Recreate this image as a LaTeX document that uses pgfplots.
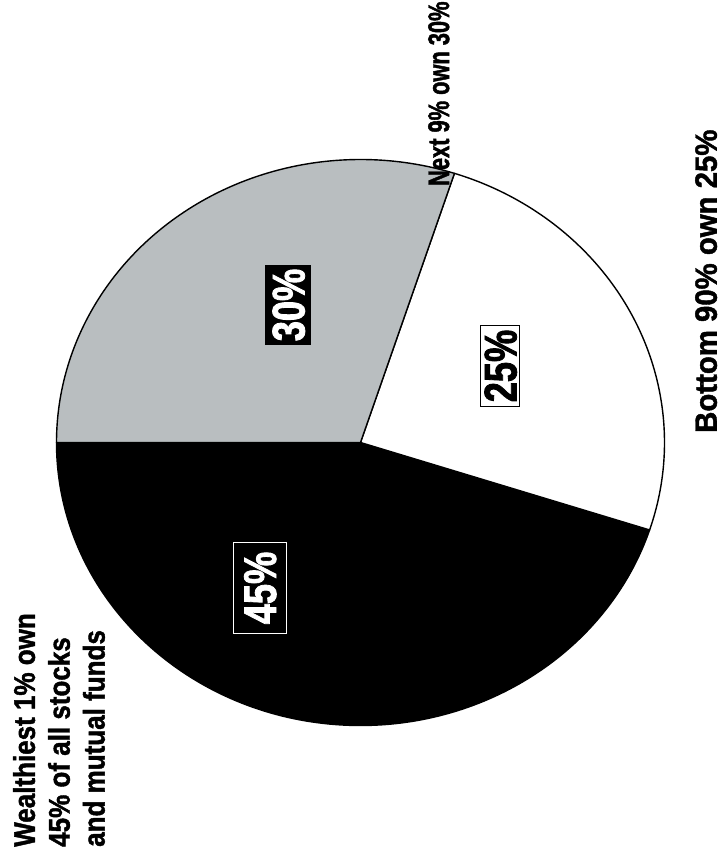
\documentclass[border=0pt]{standalone}
\usepackage{pgfplots}
\pgfplotsset{compat=1.18}
\usepackage{pgfplotstable}
\usepackage{fontspec}
\setmainfont{Liberation Sans}
\newfontfamily\condA{Liberation Sans Bold}[FakeStretch=0.87,FakeBold=1.4]
\newfontfamily\condB{Liberation Sans Bold}[FakeStretch=0.95,FakeBold=1.4]
\newfontfamily\condC{Liberation Sans Bold}[FakeStretch=0.73,FakeBold=1.4]
\newfontfamily\condx{Liberation Sans Bold}[FakeStretch=0.79,FakeBold=1.8]
\definecolor{piegrey}{RGB}{185,190,192}

% shares in percent, drawn counter-clockwise from 180 deg
\pgfplotstableread{
share col
45 black
25 white
30 piegrey
}\pietable

\begin{document}
\begin{tikzpicture}
\begin{axis}[x=1bp,y=1bp,xmin=0,xmax=723,ymin=0,ymax=858,hide axis,clip=false]
\pgfplotstablegetrowsof{\pietable}
\pgfmathtruncatemacro\nlast{\pgfplotsretval-1}
\def\angA{180}
\pgfplotsforeachungrouped \i in {0,...,\nlast}{%
  \pgfplotstablegetelem{\i}{share}\of\pietable \let\share\pgfplotsretval
  \pgfplotstablegetelem{\i}{col}\of\pietable \let\col\pgfplotsretval
  \pgfmathsetmacro\angB{\angA+3.6*\share}
  \edef\temp{\noexpand\filldraw[fill=\col,draw=black,line width=1.4bp,line join=round]
    (axis cs:360.5,415.5) -- ++(\angA:304bp and 283bp)
    arc[start angle=\angA,end angle=\angB,x radius=304bp,y radius=283bp] -- cycle;}
  \temp
  \global\let\angA\angB
}
% value boxes
\node[rotate=90,fill=black,text=white,font=\condx\fontsize{46}{46}\selectfont,
  inner xsep=4bp,inner ysep=6.5bp,text height=33bp,text depth=0pt] at (axis cs:288,553) {30\%};
\node[rotate=90,fill=black,draw=white,line width=1bp,text=white,font=\condx\fontsize{46}{46}\selectfont,
  inner xsep=9.5bp,inner ysep=10bp,text height=33bp,text depth=0pt] at (axis cs:259.5,270) {45\%};
\node[rotate=90,fill=white,draw=black,line width=1bp,text=black,font=\condx\fontsize{46}{46}\selectfont,
  inner xsep=4bp,inner ysep=3bp,text height=33bp,text depth=0pt] at (axis cs:500,492) {25\%};
% outer labels
\node[rotate=90,anchor=north west,inner sep=0,align=left,
  font=\condA\fontsize{30}{35}\selectfont] at (axis cs:13,11)
  {Wealthiest 1\% own\\45\% of all stocks\\and mutual funds};
\node[rotate=90,anchor=north west,inner sep=0,
  font=\condC\fontsize{30}{30}\selectfont] at (axis cs:428,672) {Next 9\% own 30\%};
\node[rotate=90,anchor=north west,inner sep=0,
  font=\condB\fontsize{31}{31}\selectfont] at (axis cs:695,425) {Bottom 90\% own 25\%};
\end{axis}
\pgfresetboundingbox
\path (0,0) rectangle (723bp,858bp);
\end{tikzpicture}
\end{document}
